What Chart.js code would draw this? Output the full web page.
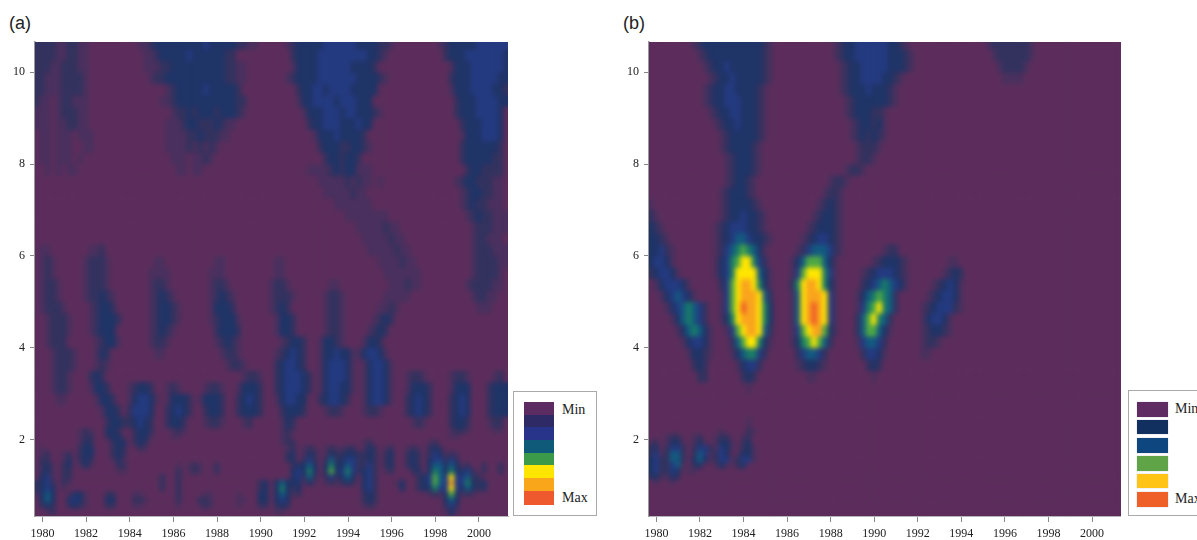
<!DOCTYPE html>
<html>
<head>
<meta charset="utf-8">
<script src="https://cdn.jsdelivr.net/npm/chart.js@4"></script>
<style>
  html, body { margin: 0; padding: 0; background: #fff; overflow: hidden; }
  body { position: relative; width: 1197px; height: 540px; }
  canvas { position: absolute; top: 0; }
  .tag { position: absolute; top: 13px; font: 18px "Liberation Sans", sans-serif; color: #222; }
  .legend { position: absolute; box-sizing: border-box; background: #fff; border: 1.5px solid #aaa; }
  .swatch, .legendText { position: absolute; }
  .legendText { font: 14px "Liberation Serif", serif; color: #222; line-height: 14px; }
</style>
</head>
<body>
<div class="tag" style="left:9px">(a)</div>
<div class="tag" style="left:623px">(b)</div>
<canvas id="chartA" width="512" height="540" style="left:0"></canvas>
<canvas id="chartB" width="507" height="540" style="left:614px"></canvas>
<div id="legends"></div>
<script>
const tickYears = [1980, 1982, 1984, 1986, 1988, 1990, 1992, 1994, 1996, 1998, 2000];
const tickPeriods = [2, 4, 6, 8, 10];

// column centres, quarter year apart
const years = [];
for (let c = 0; c < 87; c++) {
  years.push(1979.75 + c * 0.25);
}

// row edges, finer under period 2.25
const periodEdges = [10.75, 10.5, 10.25, 10, 9.75, 9.5, 9.25, 9, 8.75, 8.5, 8.25, 8, 7.75, 7.5, 7.25, 7, 6.75, 6.5,
  6.25, 6, 5.75, 5.5, 5.25, 5, 4.75, 4.5, 4.25, 4, 3.75, 3.5, 3.25, 3, 2.75, 2.5, 2.25,
  2.125, 2, 1.875, 1.75, 1.625, 1.5, 1.375, 1.25, 1.125, 1, 0.875, 0.75, 0.625, 0.5, 0.375, 0.25];

// colour ramp, index is the hex digit used in the rows below
const levelColors = ['#5c2d5c', '#4a305e', '#33325f', '#1f3467', '#243a80', '#135a80', '#1a7d66', '#4fa844',
  '#ffe600', '#f9a51e', '#ee5a2b'];

// one string per row, "column:levels". anything not listed is Min
const powerA = [
  "0:2222112211 19:1123333333334333332211 46:12333334444443333221 74:1233333444444",
  "0:2222112211 20:11233333433333322 47:233334444444443321 75:233344444443",
  "0:2221122211 20:1112233333333332211 47:1333344444433332 76:13334444443",
  "0:2211122221 21:122333333333332211 46:1233334444444333321 76:23334444433",
  "0:2211122221 24:12333334333332 48:233443444433333 76:13334444332",
  "0:2110122111 23:1123333333333322 48:13344443444333 77:2333444433",
  "0:1110122211 25:12232333233321 49:133344434433321 77:233344443",
  "0:1110112211 24:1112332223211 50:233444333433 78:23334443",
  "1:1101110111 24:111122322211 51:1333433332 78:13334443",
  "1:110111 9:11 24:1111212121 52:2333223321 78:23333332",
  "1:110111 8:1 25:11101121 53:2332332 78:23333322",
  "2:101011 26:11011 50:1111232331 60:11 79:2332222",
  "52:1111121211 63:1 77:123322211",
  "53:11111211 78:12332211",
  "55:1111111 78:12322111",
  "57:11111111 79:12322111",
  "59:11111211 80:1222111",
  "60:11111211 80:122111",
  "1:11 10:112 61:11111211 80:1222111",
  "1:121 9:12221 22:11 33:11 44:11 63:1111211 80:1222211",
  "1:121 9:12221 21:1111 32:111 44:11 64:1111111 80:122221",
  "1:1221 9:12221 21:1221 32:1221 43:1221 54:11 65:111211 79:1222211",
  "1:1221 9:122321 21:12321 32:12321 43:12221 53:1221 64:11111 80:12211",
  "1:12221 10:12332 21:123321 32:13332 43:1232 53:1221 63:1121 81:111",
  "2:12221 10:123332 21:123321 32:123331 44:1332 53:1221 62:1232",
  "2:12221 10:12333 21:12321 33:23332 44:1332 53:1221 61:1232",
  "2:1222 11:12331 21:1221 33:12321 45:12332 52:13321 60:1332",
  "3:12221 11:132 22:11 34:1221 44:123432 52:1334331 59:134431",
  "3:12221 11:121 35:1221 44:234432 52:1344431 60:134431",
  "3:1221 10:232 38:1221 44:2344432 52:1344431 60:134431 68:1221 76:1221 84:12",
  "3:1221 10:1332 17:12332 24:121 31:1221 37:13332 44:2344432 52:1344331 60:134431 68:13332 76:1333 83:2333",
  "4:11 11:1332 17:134431 24:13332 30:13332 37:23432 44:134433 52:234432 60:134431 68:23432 76:2343 83:2333",
  "12:1332 17:24443 24:23432 31:2332 37:23332 45:23332 53:1221 60:1221 68:23432 76:2343 83:2333",
  "13:2332 17:23432 24:2332 31:1221 38:12 45:132 69:121 76:2332 83:122",
  "8:121 13:332 18:2332 25:121 45:121 76:1221 84:11",
  "8:122 13:2331 18:2331 25:11 45:12 76:11",
  "8:132 14:233 18:232 45:122 60:12 72:12",
  "1:1 8:233 14:232 19:21 46:12 49:121 53:121 56:122 60:132 64:12 68:121 72:232",
  "1:12 5:12 8:233 14:232 46:23 49:132 53:132 56:2332 60:232 64:23 68:232 72:243 75:121",
  "1:22 5:13 8:232 14:131 46:23 49:242 53:252 56:3442 60:232 64:23 68:232 72:344 75:242",
  "1:231 5:23 8:131 15:22 26:1 28:121 33:2 47:23 49:353 53:363 56:3542 60:242 64:23 68:232 72:355 75:353 78:12 82:2 85:2",
  "1:231 5:22 15:11 26:2 28:121 33:2 47:34 49:363 53:373 56:4642 60:342 64:12 69:23 72:365 75:363 78:342 82:2 85:2",
  "1:341 5:22 23:2 26:2 47:34 49:252 53:242 56:353 60:342 70:23 72:475 75:484 78:453 80:22",
  "0:2 1:342 5:21 23:2 26:2 41:23 44:353 47:33 49:131 53:121 56:232 60:342 66:11 67:3 70:23 72:475 75:494 78:463 81:23",
  "0:2 1:343 5:1 23:2 26:2 41:23 44:363 47:23 60:342 67:3 70:23 72:364 75:484 78:353 81:23",
  "0:1 1:353 6:1331 13:22 18:11 26:2 31:11 37:1 41:33 44:353 47:12 60:232 72:121 75:373 78:121",
  "1:353 6:3431 13:33 18:221 26:2 30:221 37:11 41:33 44:343 60:232 75:353",
  "1:232 6:2321 13:22 18:11 26:1 30:121 37:1 41:22 44:232 60:121 75:242",
  "2:12 44:11 75:131",
  "76:1"
];

const powerB = [
  "8:123333333333321 34:12334444443321 62:122222221",
  "9:12333333333321 34:123344444433321 63:12222221",
  "10:1233433333321 35:12334444433321 64:122221",
  "11:123343333321 35:123344443321 65:1111",
  "10:123344333321 35:12333433321",
  "10:123344433321 36:1233333321",
  "11:12334433321 36:12333221",
  "12:1233433321 37:1233231",
  "13:123333321 37:1232321",
  "13:12333321 38:12221",
  "14:1233321 38:1221",
  "14:1233321 36:1221",
  "14:123321 33:1221",
  "13:1233321 32:1221",
  "0:1 13:12333321 31:12321",
  "0:21 13:123343321 30:123321",
  "0:321 12:1234443321 29:1233321",
  "0:3321 12:12345543321 28:12344321",
  "0:33421 12:1245676531 27:124555421 43:122",
  "0:34431 12:1346788642 26:135777531 41:1233321 55:11",
  "0:234431 12:13468888531 26:147888641 39:123444321 54:1232",
  "1:1344431 13:2478998631 26:268998631 39:234565431 52:123431",
  "2:1345431 13:1478999852 26:158999841 38:13567652 51:1234431",
  "3:13456542 13:14 15:78a99863 26:1589a9841 38:14678652 50:12344421",
  "4:1356542 13:1368999863 26:1589a9841 38:2578652 50:134431",
  "5:1356531 14:147899852 26:147899731 38:2577531 50:123321",
  "6:134431 15:25788631 26:13678752 38:145542 50:1221",
  "7:13321 15:1356642 27:245542 39:24431 50:11",
  "8:232 16:13442 27:123321 40:232",
  "9:22 17:232 29:11 41:1",
  "18:1",
  "",
  "",
  "18:1",
  "13:1 18:21",
  "3:122 8:12 12:122 17:12",
  "0:12 3:1331 8:131 12:1331 17:23",
  "0:23 3:2442 8:2442 12:1431 17:231",
  "0:241 3:2552 8:2541 12:243 16:1331",
  "0:342 3:2552 8:3531 12:2441 16:2441",
  "0:342 3:2451 8:23 12:131 16:23",
  "0:342 3:243 7:11",
  "0:231 3:132",
  "1:1 4:1",
  "",
  "",
  "",
  "",
  "",
  ""
];

// legend entries, top to bottom
const legendColorsA = ['#5c2b62', '#2e2a66', '#28338a', '#0f5a78', '#3a9a4a', '#ffe600', '#faa61a', '#ee5a2d'];
const legendColorsB = ['#5e2c62', '#12305f', '#0e4680', '#5fa548', '#ffc415', '#ee6028'];

function readRow(row) {
  const levels = years.map(() => 0);
  row.split(' ').forEach((token) => {
    if (token.indexOf(':') < 0) return;
    const parts = token.split(':');
    const start = parseInt(parts[0], 10);
    for (let i = 0; i < parts[1].length; i++) {
      levels[start + i] = parseInt(parts[1][i], 16);
    }
  });
  return levels;
}

function getDatasets(rows) {
  return rows.map((row, r) => {
    const levels = readRow(row);
    return {
      data: years.map((year) => ({ x: year, y: [periodEdges[r + 1], periodEdges[r]] })),
      backgroundColor: levels.map((level) => levelColors[level]),
      borderWidth: 0,
      barPercentage: 1,
      categoryPercentage: 1,
      grouped: false
    };
  });
}

// the original is a smoothed image, so soften the cells once they are drawn
const softenCells = {
  id: 'softenCells',
  afterDatasetsDraw(chart) {
    const area = chart.chartArea;
    const copy = document.createElement('canvas');
    copy.width = area.width;
    copy.height = area.height;
    copy.getContext('2d').drawImage(chart.canvas, area.left, area.top, area.width, area.height, 0, 0, area.width, area.height);
    const ctx = chart.ctx;
    ctx.save();
    ctx.beginPath();
    ctx.rect(area.left, area.top, area.width, area.height);
    ctx.clip();
    ctx.filter = 'blur(2.5px)';
    ctx.drawImage(copy, area.left, area.top);
    ctx.restore();
  }
};

function drawChart(id, rows, rightPad) {
  const tickFont = { family: '"Liberation Serif", serif', size: 12 };
  return new Chart(document.getElementById(id), {
    type: 'bar',
    data: { datasets: getDatasets(rows) },
    plugins: [softenCells],
    options: {
      responsive: false,
      animation: false,
      layout: { padding: { top: 42, right: rightPad, left: 0, bottom: 0 } },
      plugins: { legend: { display: false }, tooltip: { enabled: false } },
      scales: {
        x: {
          type: 'linear',
          offset: false,
          min: 1979.66,
          max: 2001.33,
          afterFit: (scale) => { scale.height = 24; },
          afterBuildTicks: (scale) => { scale.ticks = tickYears.map((v) => ({ value: v })); },
          border: { color: '#b5b5b5', width: 1 },
          grid: { offset: false, drawOnChartArea: false, tickLength: 6, tickColor: '#888' },
          ticks: {
            autoSkip: false,
            maxRotation: 0,
            padding: 5,
            color: '#222',
            font: tickFont,
            callback: (value) => String(value)
          }
        },
        y: {
          type: 'linear',
          min: 0.33,
          max: 10.66,
          afterFit: (scale) => { scale.width = 35; },
          afterBuildTicks: (scale) => { scale.ticks = tickPeriods.map((v) => ({ value: v })); },
          border: { color: '#999', width: 1.5 },
          grid: { drawOnChartArea: false, tickLength: 5, tickColor: '#888' },
          ticks: { padding: 5, color: '#222', font: tickFont }
        }
      }
    }
  });
}

function drawLegend(box, colors, swatchEdges, swatchX, textX, textY, border) {
  const legend = document.createElement('div');
  legend.className = 'legend';
  legend.style.cssText = 'left:' + box[0] + 'px;top:' + box[1] + 'px;width:' + box[2] + 'px;height:' + box[3] + 'px';
  document.getElementById('legends').appendChild(legend);
  colors.forEach((color, i) => {
    const s = document.createElement('div');
    s.className = 'swatch';
    s.style.cssText = 'left:' + (swatchX[0] - box[0] - 1) + 'px;top:' + (swatchEdges[i][0] - box[1] - 1) + 'px;width:' + (swatchX[1] - swatchX[0]) +
      'px;height:' + (swatchEdges[i][1] - swatchEdges[i][0]) + 'px;background:' + color + (border ? ';box-shadow:0 0 1px 0 #aab4c4' : '');
    legend.appendChild(s);
  });
  ['Min', 'Max'].forEach((label, i) => {
    const t = document.createElement('div');
    t.className = 'legendText';
    t.textContent = label;
    t.style.left = (textX - box[0] - 1) + 'px';
    t.style.top = (textY[i] - box[1] - 1 - 7) + 'px';
    legend.appendChild(t);
  });
}

drawChart('chartA', powerA, 4);
drawChart('chartB', powerB, 0);

drawLegend([513, 391, 84, 125], legendColorsA,
  [[402, 415], [415, 427], [427, 440], [440, 453], [453, 465], [465, 478], [478, 491], [491, 505]],
  [524, 554], 562, [410, 498], false);
drawLegend([1128, 390, 90, 126], legendColorsB,
  [[402, 417], [420, 434], [438, 453], [456, 471], [474, 488], [492, 507]],
  [1137, 1168], 1175, [409, 499], true);
</script>
</body>
</html>
